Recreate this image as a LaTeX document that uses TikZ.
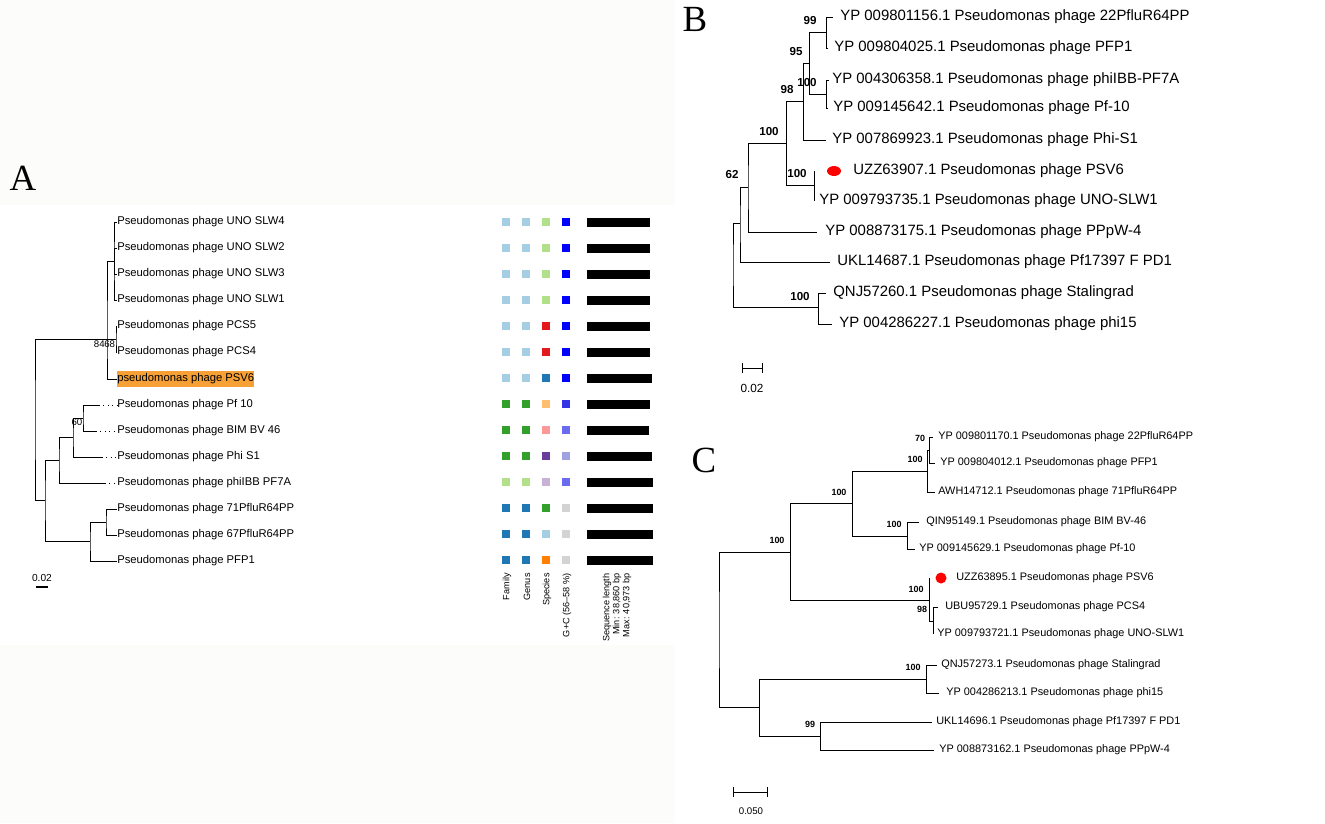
\documentclass[tikz,border=0pt]{standalone}
\usepackage{fontspec}
\setmainfont{Liberation Sans}
\newfontfamily\panelfont{Liberation Serif}
\usetikzlibrary{positioning,shapes.geometric}

\definecolor{pairLB}{HTML}{A6CEE3}
\definecolor{pairDB}{HTML}{1F78B4}
\definecolor{pairLG}{HTML}{B2DF8A}
\definecolor{pairDG}{HTML}{33A02C}
\definecolor{pairRD}{HTML}{E31A1C}
\definecolor{pairPK}{HTML}{FB9A99}
\definecolor{pairLO}{HTML}{FDBF6F}
\definecolor{pairOR}{HTML}{FF7F00}
\definecolor{pairLP}{HTML}{CAB2D6}
\definecolor{pairDP}{HTML}{6A3D9A}
\definecolor{gcA}{HTML}{0000FF}
\definecolor{gcB}{HTML}{3434E4}
\definecolor{gcC}{HTML}{6A6AEE}
\definecolor{gcD}{HTML}{A0A0E2}
\definecolor{gcE}{HTML}{D3D3D3}
\definecolor{hilite}{HTML}{F7A035}
\definecolor{tint}{HTML}{FCFCFA}

\begin{document}
\begin{tikzpicture}[x=0.02cm, y=-0.02cm,
branch/.style={line width=0.55pt},
tipdots/.style={dotted, line width=0.55pt},
alab/.style={anchor=west, inner sep=0pt, font=\fontsize{6.4}{7.5}\selectfont},
blab/.style={anchor=west, inner sep=0pt, font=\fontsize{8.5}{10}\selectfont},
clab/.style={anchor=west, inner sep=0pt, font=\fontsize{6.2}{7.5}\selectfont},
aboot/.style={inner sep=0pt, font=\fontsize{5.5}{6}\selectfont},
bboot/.style={inner sep=0pt, font=\fontsize{6.6}{7}\selectfont\bfseries},
cboot/.style={inner sep=0pt, font=\fontsize{5.1}{6}\selectfont\bfseries},
panel/.style={inner sep=0pt, font=\panelfont\fontsize{21}{24}\selectfont},
colhead/.style={rotate=90, anchor=east, inner sep=0pt, align=right, font=\fontsize{5.2}{5.7}\selectfont},
cell/.style={minimum size=0.15cm, inner sep=0pt},
reddot/.style={ellipse, fill=red, inner sep=0pt, minimum width=0.28cm, minimum height=0.2cm},
scalebar/.style={line width=0.55pt, |-|}
]
    \useasboundingbox (0,0) rectangle (1325,823);
    \fill[tint] (0,0) rectangle (675,205);
    \fill[tint] (0,645) rectangle (675,823);

    %Panel letters
    \node[panel] (pA) at (23,178) {A};
    \node[panel] (pB) at (695,19) {B};
    \node[panel] (pC) at (704,460) {C};

    %Panel A: leaves
    \node[alab] (aSLW4) at (117,222) {Pseudomonas phage UNO SLW4};
    \node[alab] (aSLW2) at (117,248) {Pseudomonas phage UNO SLW2};
    \node[alab] (aSLW3) at (117,274) {Pseudomonas phage UNO SLW3};
    \node[alab] (aSLW1) at (117,300) {Pseudomonas phage UNO SLW1};
    \node[alab] (aPCS5) at (117,326) {Pseudomonas phage PCS5};
    \node[alab] (aPCS4) at (117,352) {Pseudomonas phage PCS4};
    \node[alab, fill=hilite, inner ysep=1.7pt] (aPSV6) at (117,379) {pseudomonas phage PSV6};
    \node[alab] (aPf10) at (117,405) {Pseudomonas phage Pf 10};
    \node[alab] (aBIM) at (117,431) {Pseudomonas phage BIM BV 46};
    \node[alab] (aPhiS1) at (117,457) {Pseudomonas phage Phi S1};
    \node[alab] (aPhiIBB) at (117,483) {Pseudomonas phage phiIBB PF7A};
    \node[alab] (a71) at (117,509) {Pseudomonas phage 71PfluR64PP};
    \node[alab] (a67) at (117,535) {Pseudomonas phage 67PfluR64PP};
    \node[alab] (aPFP1) at (117,561) {Pseudomonas phage PFP1};

    %Panel A: inner nodes
    \coordinate (nSLW) at (114,261);
    \coordinate (nPCS) at (116,339);
    \coordinate (nPSV) at (107,339);
    \coordinate (nPfBIM) at (83,418);
    \coordinate (nPhi) at (73,437);
    \coordinate (nPf) at (59,460);
    \coordinate (n7167) at (106,522);
    \coordinate (nPflu) at (90,541);
    \coordinate (nLow) at (45,500);
    \coordinate (nRootA) at (35,420);
    \coordinate (dPf10) at (99,405);
    \coordinate (dBIM) at (96,431);
    \coordinate (dPhiS1) at (102,457);
    \coordinate (dPhiIBB) at (105,483);

    %Panel A: branches
    \draw[branch] (aSLW4.west) -| (nSLW) |- (aSLW1.west);
    \draw[branch] (nSLW) |- (aSLW2.west) (nSLW) |- (aSLW3.west);
    \draw[branch] (aPCS5.west) -| (nPCS) |- (aPCS4.west);
    \draw[branch] (nSLW) -| (nPSV) |- (aPSV6.west);
    \draw[branch] (nPSV) -- (nPCS);
    \draw[branch] (nPSV) -| (nRootA) |- (nLow);
    \draw[branch] (nPf) -| (nLow) |- (nPflu);
    \draw[branch] (nPhi) -| (nPf) |- (dPhiIBB);
    \draw[branch] (nPfBIM) -| (nPhi) |- (dPhiS1);
    \draw[branch] (dPf10) -| (nPfBIM) |- (dBIM);
    \draw[branch] (n7167) -| (nPflu) |- (aPFP1.west);
    \draw[branch] (a71.west) -| (n7167) |- (a67.west);
    \draw[tipdots] (dPf10) -- (aPf10.west);
    \draw[tipdots] (dBIM) -- (aBIM.west);
    \draw[tipdots] (dPhiS1) -- (aPhiS1.west);
    \draw[tipdots] (dPhiIBB) -- (aPhiIBB.west);

    %Panel A: support values and scale
    \node[aboot, anchor=east] (bA84) at (105,344) {84};
    \node[aboot, anchor=west] (bA68) at (104,344) {68};
    \node[aboot] (bA60) at (77,422) {60};
    \draw[line width=1.4pt] (36,587) -- (48,587);
    \node[inner sep=0pt, font=\fontsize{5.8}{6}\selectfont] (sA) at (42,578) {0.02};

    %Panel A: classification grid
    \foreach \y/\fa/\ge/\sp/\gc/\len [count=\r] in {
        222/pairLB/pairLB/pairLG/gcA/650, 248/pairLB/pairLB/pairLG/gcA/650,
        274/pairLB/pairLB/pairLG/gcA/650, 300/pairLB/pairLB/pairLG/gcA/650,
        326/pairLB/pairLB/pairRD/gcA/650, 352/pairLB/pairLB/pairRD/gcA/650,
        378/pairLB/pairLB/pairDB/gcA/652, 404/pairDG/pairDG/pairLO/gcB/650,
        430/pairDG/pairDG/pairPK/gcC/649, 456/pairDG/pairDG/pairDP/gcD/652,
        482/pairLG/pairLG/pairLP/gcC/653, 508/pairDB/pairDB/pairDG/gcE/653,
        534/pairDB/pairDB/pairLB/gcE/653, 560/pairDB/pairDB/pairOR/gcE/653}
    {
        \node[cell, fill=\fa] (fam\r) at (506,\y) {};
        \node[cell, fill=\ge] (gen\r) at (526,\y) {};
        \node[cell, fill=\sp] (spe\r) at (546,\y) {};
        \node[cell, fill=\gc] (gc\r) at (566,\y) {};
        \fill (587,\y-4.5) rectangle (\len,\y+4.5);
    }
    \node[colhead] (hFam) at (507,573) {Family};
    \node[colhead] (hGen) at (527,573) {Genus};
    \node[colhead] (hSpe) at (547,573) {Species};
    \node[colhead] (hGC) at (567,573) {G+C (56--58 \%)};
    \node[colhead] (hSeq) at (617,573) {Sequence length\\Min: 38,860 bp\\Max: 40,973 bp};

    %Panel B: leaves
    \node[blab] (b1) at (840,17) {YP 009801156.1 Pseudomonas phage 22PfluR64PP};
    \node[blab] (b2) at (834,48) {YP 009804025.1 Pseudomonas phage PFP1};
    \node[blab] (b3) at (832,80) {YP 004306358.1 Pseudomonas phage phiIBB-PF7A};
    \node[blab] (b4) at (833,108) {YP 009145642.1 Pseudomonas phage Pf-10};
    \node[blab] (b5) at (832,140) {YP 007869923.1 Pseudomonas phage Phi-S1};
    \node[blab] (b6) at (853,171) {UZZ63907.1 Pseudomonas phage PSV6};
    \node[blab] (b7) at (819,201) {YP 009793735.1 Pseudomonas phage UNO-SLW1};
    \node[blab] (b8) at (825,232) {YP 008873175.1 Pseudomonas phage PPpW-4};
    \node[blab] (b9) at (837,262) {UKL14687.1 Pseudomonas phage Pf17397 F PD1};
    \node[blab] (b10) at (833,293) {QNJ57260.1 Pseudomonas phage Stalingrad};
    \node[blab] (b11) at (839,324) {YP 004286227.1 Pseudomonas phage phi15};
    \node[reddot] (dotB) at (834,171) {};

    %Panel B: tips and inner nodes
    \coordinate (tb1) at (833,17);
    \coordinate (tb2) at (828,48);
    \coordinate (tb3) at (829,80);
    \coordinate (tb4) at (828,108);
    \coordinate (tb5) at (826,140);
    \coordinate (tb6) at (814,171);
    \coordinate (tb7) at (814,201);
    \coordinate (tb8) at (817,232);
    \coordinate (tb9) at (830,262);
    \coordinate (tb10) at (826,293);
    \coordinate (tb11) at (832,324);
    \coordinate (nb1) at (826,32);
    \coordinate (nb2) at (826,94);
    \coordinate (nb3) at (809,63);
    \coordinate (nb4) at (803,101);
    \coordinate (nb5) at (814,185);
    \coordinate (nb6) at (786,143);
    \coordinate (nb7) at (748,187);
    \coordinate (nb8) at (740,223);
    \coordinate (nb9) at (818,307);
    \coordinate (nbR) at (733,265);

    %Panel B: branches
    \draw[branch] (tb1) -| (nb1) |- (tb2);
    \draw[branch] (tb3) -| (nb2) |- (tb4);
    \draw[branch] (nb1) -| (nb3) |- (nb2);
    \draw[branch] (nb3) -| (nb4) |- (tb5);
    \draw[branch] (tb6) -| (nb5) |- (tb7);
    \draw[branch] (nb4) -| (nb6) |- (nb5);
    \draw[branch] (nb6) -| (nb7) |- (tb8);
    \draw[branch] (nb7) -| (nb8) |- (tb9);
    \draw[branch] (tb10) -| (nb9) |- (tb11);
    \draw[branch] (nb8) -| (nbR) |- (nb9);

    %Panel B: support values and scale
    \node[bboot] (bB1) at (810,20) {99};
    \node[bboot] (bB2) at (796,51) {95};
    \node[bboot] (bB3) at (807,82) {100};
    \node[bboot] (bB4) at (787,89) {98};
    \node[bboot] (bB5) at (769,131) {100};
    \node[bboot] (bB6) at (797,173) {100};
    \node[bboot] (bB7) at (732,174) {62};
    \node[bboot] (bB8) at (800,296) {100};
    \draw[scalebar] (742,368) -- (763,368);
    \node[inner sep=0pt, font=\fontsize{6.7}{7}\selectfont] (sB) at (752,388) {0.02};

    %Panel C: leaves
    \node[clab] (c1) at (938,437) {YP 009801170.1 Pseudomonas phage 22PfluR64PP};
    \node[clab] (c2) at (940,463) {YP 009804012.1 Pseudomonas phage PFP1};
    \node[clab] (c3) at (938,492) {AWH14712.1 Pseudomonas phage 71PfluR64PP};
    \node[clab] (c4) at (926,522) {QIN95149.1 Pseudomonas phage BIM BV-46};
    \node[clab] (c5) at (919,549) {YP 009145629.1 Pseudomonas phage Pf-10};
    \node[clab] (c6) at (956,578) {UZZ63895.1 Pseudomonas phage PSV6};
    \node[clab] (c7) at (945,607) {UBU95729.1 Pseudomonas phage PCS4};
    \node[clab] (c8) at (937,634) {YP 009793721.1 Pseudomonas phage UNO-SLW1};
    \node[clab] (c9) at (941,665) {QNJ57273.1 Pseudomonas phage Stalingrad};
    \node[clab] (c10) at (946,693) {YP 004286213.1 Pseudomonas phage phi15};
    \node[clab] (c11) at (936,722) {UKL14696.1 Pseudomonas phage Pf17397 F PD1};
    \node[clab] (c12) at (939,750) {YP 008873162.1 Pseudomonas phage PPpW-4};
    \node[reddot, minimum width=0.22cm, minimum height=0.22cm] (dotC) at (941,578) {};

    %Panel C: tips and inner nodes
    \coordinate (tc1) at (933,437);
    \coordinate (tc2) at (935,463);
    \coordinate (tc3) at (935,492);
    \coordinate (tc4) at (919,522);
    \coordinate (tc5) at (915,549);
    \coordinate (tc6) at (929,578);
    \coordinate (tc7) at (938,607);
    \coordinate (tc8) at (933,634);
    \coordinate (tc9) at (937,665);
    \coordinate (tc10) at (939,693);
    \coordinate (tc11) at (932,722);
    \coordinate (tc12) at (934,750);
    \coordinate (nc1) at (929,450);
    \coordinate (nc2) at (927,471);
    \coordinate (nc3) at (907,536);
    \coordinate (nc4) at (852,503);
    \coordinate (nc5) at (933,621);
    \coordinate (nc6) at (929,600);
    \coordinate (nc7) at (790,552);
    \coordinate (nc8) at (926,679);
    \coordinate (nc9) at (820,736);
    \coordinate (nc10) at (759,707);
    \coordinate (ncR) at (719,630);

    %Panel C: branches
    \draw[branch] (tc1) -| (nc1) |- (tc2);
    \draw[branch] (nc1) -| (nc2) |- (tc3);
    \draw[branch] (tc4) -| (nc3) |- (tc5);
    \draw[branch] (nc2) -| (nc4) |- (nc3);
    \draw[branch] (tc7) -| (nc5) |- (tc8);
    \draw[branch] (tc6) -| (nc6) |- (nc5);
    \draw[branch] (nc4) -| (nc7) |- (nc6);
    \draw[branch] (tc9) -| (nc8) |- (tc10);
    \draw[branch] (tc11) -| (nc9) |- (tc12);
    \draw[branch] (nc8) -| (nc10) |- (nc9);
    \draw[branch] (nc7) -| (ncR) |- (nc10);

    %Panel C: support values and scale
    \node[cboot] (bC1) at (920,438) {70};
    \node[cboot] (bC2) at (915,459) {100};
    \node[cboot] (bC3) at (894,524) {100};
    \node[cboot] (bC4) at (839,492) {100};
    \node[cboot] (bC5) at (916,589) {100};
    \node[cboot] (bC6) at (922,609) {98};
    \node[cboot] (bC7) at (777,540) {100};
    \node[cboot] (bC8) at (913,667) {100};
    \node[cboot] (bC9) at (810,724) {99};
    \draw[scalebar] (733,792) -- (768,792);
    \node[inner sep=0pt, font=\fontsize{5.5}{6}\selectfont] (sC) at (751,811) {0.050};
\end{tikzpicture}
\end{document}
